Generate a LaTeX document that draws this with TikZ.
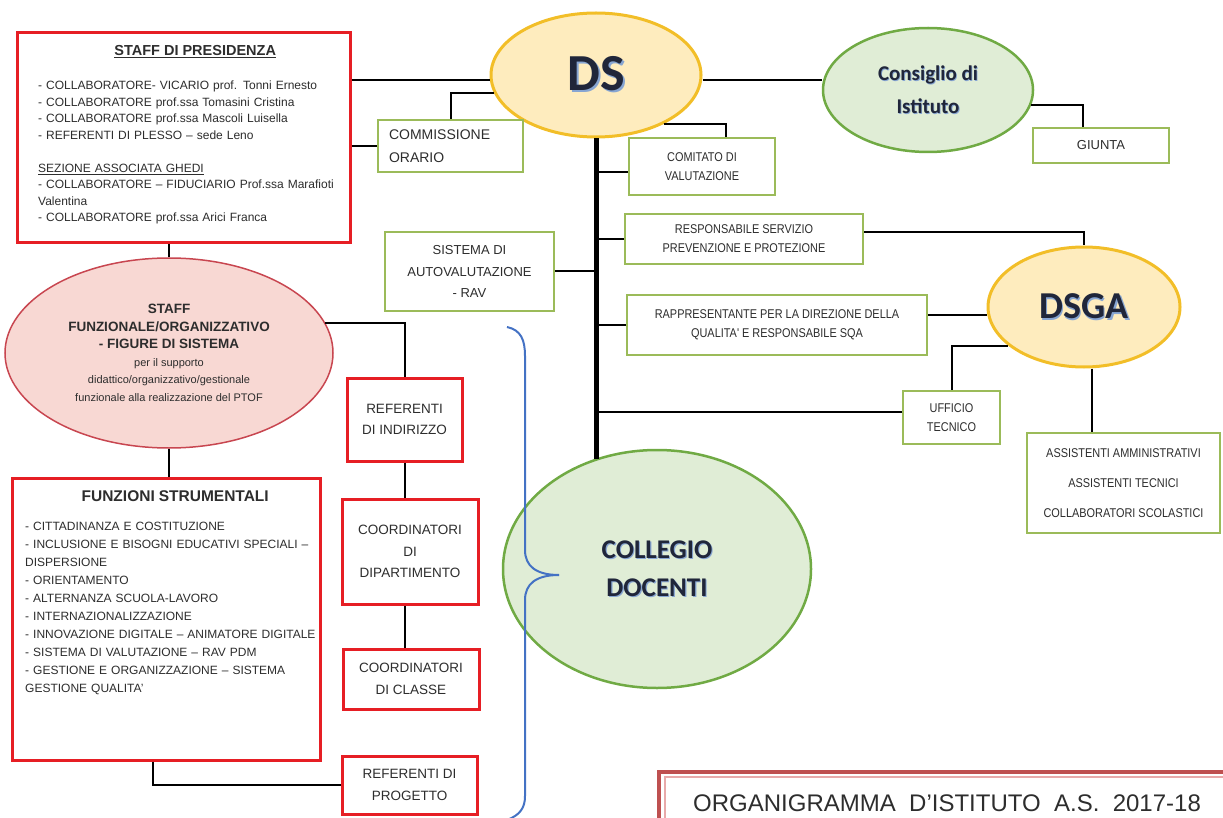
\documentclass[tikz,border=0pt]{standalone}
\usepackage{fontspec}
\setmainfont{Liberation Sans}
\newfontfamily\calibfont{Carlito}
\newfontfamily\narrowfont[FakeStretch=0.86]{Liberation Sans}
\definecolor{boxred}{RGB}{230,30,36}
\definecolor{boxgreen}{RGB}{155,187,89}
\definecolor{dsfill}{RGB}{254,236,190}
\definecolor{dsdraw}{RGB}{242,190,40}
\definecolor{cifill}{RGB}{224,237,214}
\definecolor{cidraw}{RGB}{112,170,68}
\definecolor{sffill}{RGB}{248,216,211}
\definecolor{sfdraw}{RGB}{200,70,80}
\definecolor{bracecol}{RGB}{68,114,196}
\definecolor{titlered}{RGB}{190,80,80}
\definecolor{titlepink}{RGB}{232,170,170}
\definecolor{txtgray}{RGB}{45,45,45}
\definecolor{txtdark}{RGB}{32,38,58}
\definecolor{txtshadow}{RGB}{135,165,210}
\newcommand{\shtext}[1]{\leavevmode\rlap{\kern0.04em\raisebox{-0.04em}{\textcolor{txtshadow}{#1}}}#1}
\tikzset{
	boxsize/.style 2 args={minimum width=#1, minimum height=#2},
	redbox/.style={draw=boxred, line width=3pt, fill=white, inner sep=0pt, align=center, text=txtgray, font=\fontsize{13.5}{21.5}\selectfont},
	greenbox/.style={draw=boxgreen, line width=2pt, fill=white, inner sep=0pt, align=center, text=txtgray},
	smalltext/.style={font=\narrowfont\fontsize{12.7}{19}\selectfont},
	listtext/.style={inner sep=0pt, align=left, text=txtgray},
	dsell/.style={ellipse, draw=dsdraw, line width=3pt, fill=dsfill, inner sep=0pt, text=txtdark, font=\calibfont\bfseries},
	greenell/.style={ellipse, draw=cidraw, line width=2.5pt, fill=cifill, inner sep=0pt, align=center, text=txtdark, font=\calibfont\bfseries},
	pinkell/.style={ellipse, draw=sfdraw, line width=1.5pt, fill=sffill, inner sep=0pt, align=center, text=txtgray},
	link/.style={line width=2pt},
	trunk/.style={line width=5pt},
	brace/.style={draw=bracecol, line width=2pt},
}
\usetikzlibrary{shapes.geometric}
\begin{document}
\begin{tikzpicture}[x=1pt,y=-1pt]
	\useasboundingbox (0,0) rectangle (1223,818);
	\node[redbox, boxsize={333}{210}] (staffpres) at (183.5,138) {};
	\node[listtext, text width=314, anchor=north west, font=\fontsize{12}{16.5}\selectfont] (staffprestxt) at (38,45.5) {\makebox[\linewidth]{\fontsize{14.5}{16.5}\selectfont\bfseries\underline{STAFF DI PRESIDENZA}}\\[17.5pt]
		- COLLABORATORE- VICARIO prof. Tonni Ernesto\\
		- COLLABORATORE prof.ssa Tomasini Cristina\\
		- COLLABORATORE prof.ssa Mascoli Luisella\\
		- REFERENTI DI PLESSO – sede Leno\\[16.5pt]
		\underline{SEZIONE ASSOCIATA GHEDI}\\
		- COLLABORATORE – FIDUCIARIO Prof.ssa Marafioti\\
		Valentina\\
		- COLLABORATORE prof.ssa Arici Franca};
	\node[pinkell, boxsize={328}{190}, font=\fontsize{13.5}{17.5}\selectfont\bfseries] (stafffunz) at (169,353) {STAFF\\FUNZIONALE/ORGANIZZATIVO\\- FIGURE DI SISTEMA\\
		{\mdseries\fontsize{11}{17.5}\selectfont per il supporto}\\
		{\mdseries\fontsize{11}{17.5}\selectfont didattico/organizzativo/gestionale}\\
		{\mdseries\fontsize{11}{17.5}\selectfont funzionale alla realizzazione del PTOF}};
	\node[redbox, boxsize={308}{282}] (funzioni) at (166,619) {};
	\node[listtext, text width=300, anchor=north west, font=\fontsize{12}{18}\selectfont] (funzionitxt) at (25,490) {\makebox[\linewidth]{\fontsize{15.5}{18}\selectfont\bfseries FUNZIONI STRUMENTALI}\\[11.5pt]
		- CITTADINANZA E COSTITUZIONE\\
		- INCLUSIONE E BISOGNI EDUCATIVI SPECIALI –\\
		DISPERSIONE\\
		- ORIENTAMENTO\\
		- ALTERNANZA SCUOLA-LAVORO\\
		- INTERNAZIONALIZZAZIONE\\
		- INNOVAZIONE DIGITALE – ANIMATORE DIGITALE\\
		- SISTEMA DI VALUTAZIONE – RAV PDM\\
		- GESTIONE E ORGANIZZAZIONE – SISTEMA\\
		GESTIONE QUALITA'};
	\node[redbox, boxsize={115}{83}] (refind) at (404.5,419.5) {REFERENTI\\DI INDIRIZZO};
	\node[redbox, boxsize={136}{105}] (coorddip) at (410,551.5) {COORDINATORI\\DI\\DIPARTIMENTO};
	\node[redbox, boxsize={136}{60}] (coordcl) at (411,679) {COORDINATORI\\DI CLASSE};
	\node[redbox, boxsize={135}{58}] (refprog) at (409.5,785) {REFERENTI DI\\PROGETTO};
	\node[dsell, boxsize={210}{124}, font=\calibfont\bfseries\fontsize{52}{52}\selectfont] (ds) at (596,75) {\shtext{DS}};
	\node[greenell, boxsize={210}{124}, font=\calibfont\bfseries\fontsize{21}{33}\selectfont] (consiglio) at (928,90) {\shtext{Consiglio di}\\\shtext{Istituto}};
	\node[greenbox, boxsize={136}{35}, font=\fontsize{13}{16}\selectfont] (giunta) at (1101,145.5) {GIUNTA};
	\node[greenbox, boxsize={145}{52}, text width=123, align=left, font=\fontsize{14}{23}\selectfont] (comm) at (450.5,146) {COMMISSIONE\\ORARIO};
	\node[greenbox, boxsize={146}{57}, smalltext] (comitato) at (702,166.5) {COMITATO DI\\VALUTAZIONE};
	\node[greenbox, boxsize={238}{50}, smalltext] (resp) at (744,239) {RESPONSABILE SERVIZIO\\PREVENZIONE E PROTEZIONE};
	\node[greenbox, boxsize={169}{79}, font=\fontsize{13}{21.5}\selectfont] (sistema) at (469.5,271.5) {SISTEMA DI\\AUTOVALUTAZIONE\\- RAV};
	\node[greenbox, boxsize={300}{60}, smalltext] (rapp) at (777,325) {RAPPRESENTANTE PER LA DIREZIONE DELLA\\QUALITA' E RESPONSABILE SQA};
	\node[dsell, boxsize={192}{120}, font=\calibfont\bfseries\fontsize{38}{38}\selectfont] (dsga) at (1084,307) {\shtext{DSGA}};
	\node[greenbox, boxsize={97}{53}, smalltext] (ufficio) at (951.5,417.5) {UFFICIO\\TECNICO};
	\node[greenbox, boxsize={193}{100}, smalltext, font=\narrowfont\fontsize{12.7}{30}\selectfont] (assist) at (1123.5,483) {ASSISTENTI AMMINISTRATIVI\\ASSISTENTI TECNICI\\COLLABORATORI SCOLASTICI};
	\node[greenell, boxsize={308}{238}, font=\calibfont\bfseries\fontsize{27}{38}\selectfont] (collegio) at (657,569) {\shtext{COLLEGIO}\\\shtext{DOCENTI}};
	\draw[link] ([yshift=-5]ds.west) -- ([yshift=-5]ds.west -| staffpres.east);
	\draw[link] (comm.west) -- (comm.west -| staffpres.east);
	\draw[link] (ds.190) -| (comm.north);
	\draw[trunk] (ds.south) -- (ds.south |- collegio.119);
	\draw[link] ([yshift=-6]comitato.west) -- ([yshift=-6]comitato.west -| ds.south);
	\draw[link] (ds.324) -| ([xshift=24]comitato.north);
	\draw[link] (resp.west) -- (resp.west -| ds.south);
	\draw[link] (sistema.east) -- (sistema.east -| ds.south);
	\draw[link] (rapp.west) -- (rapp.west -| ds.south);
	\draw[link] ([yshift=6]ufficio.west) -- ([yshift=6]ufficio.west -| ds.south);
	\draw[link] ([yshift=7]resp.east) -| (dsga.north);
	\draw[link] ([yshift=10]rapp.east) -- ([yshift=10]rapp.east -| dsga.west);
	\draw[link] (dsga.207) -| (ufficio.north);
	\draw[link] ([xshift=8]dsga.south) -- ([xshift=8]dsga.south |- assist.north);
	\draw[link] ([yshift=-5]ds.east) -- ([yshift=-5]ds.east -| consiglio.west);
	\draw[link] (consiglio.352) -| ([xshift=-18]giunta.north);
	\draw[link] (stafffunz.north |- staffpres.south) -- (stafffunz.north);
	\draw[link] (stafffunz.south) -- (stafffunz.south |- funzioni.north);
	\draw[link] (stafffunz.11) -| (refind.north);
	\draw[link] (refind.south) -- (refind.south |- coorddip.north);
	\draw[link] (coorddip.south -| refind.south) -- (coordcl.north -| refind.south);
	\draw[link] ([xshift=-13]funzioni.south) |- (refprog.west);
	\draw[brace] (507,327) .. controls (521,330) and (525,340) .. (525,356) -- (525,550) .. controls (525,566) and (536,575) .. (559,575);
	\draw[brace] (559,575) .. controls (536,575) and (525,584) .. (525,600) -- (525,796) .. controls (525,808) and (520,815) .. (507,820);
	\draw[titlered, line width=4pt] (659,772) rectangle (1240,840);
	\draw[titlepink, line width=1.5pt] (665,777) rectangle (1240,840);
	\node[anchor=west, inner sep=0pt, text=txtgray, font=\fontsize{24}{28}\selectfont] (orgtitle) at (693,803.5) {ORGANIGRAMMA\ \ D'ISTITUTO\ \ A.S.\ \ 2017-18};
\end{tikzpicture}
\end{document}
